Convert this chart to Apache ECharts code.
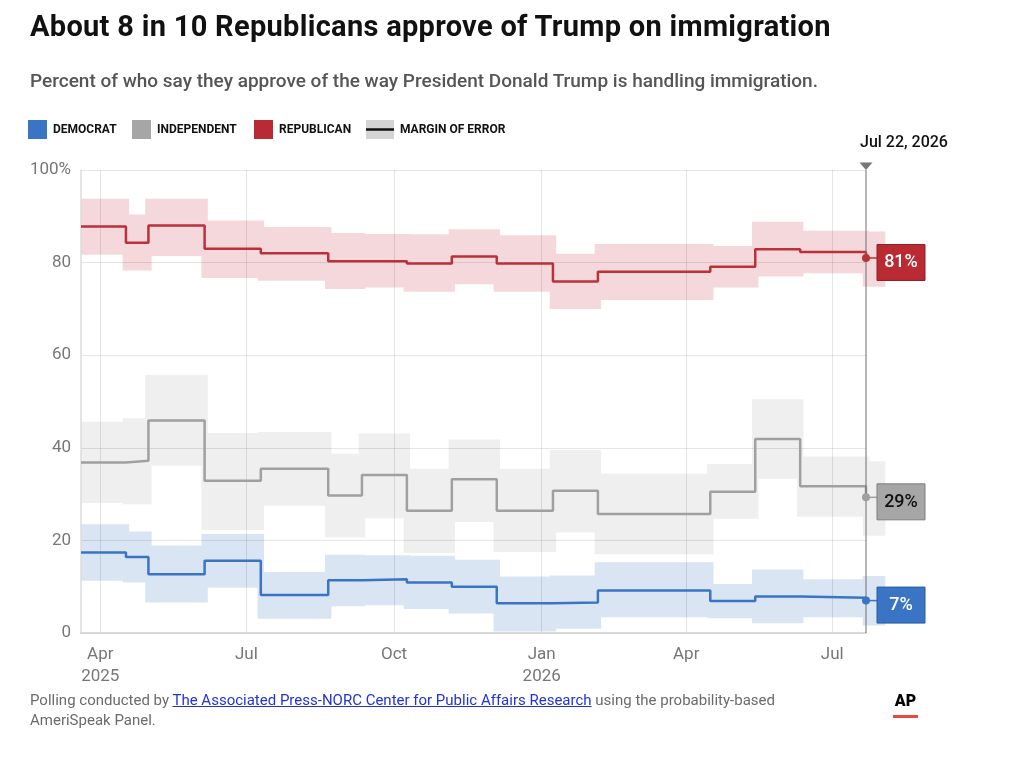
<!DOCTYPE html>
<html>
<head>
<meta charset="utf-8">
<title>About 8 in 10 Republicans approve of Trump on immigration</title>
<script src="https://cdn.jsdelivr.net/npm/echarts@6/dist/echarts.min.js"></script>
<style>
  html, body { margin: 0; padding: 0; background: #fff; }
  body { width: 1024px; height: 773px; position: relative; overflow: hidden; font-family: Roboto, "Noto Sans", sans-serif; }
  #chart { position: absolute; left: 0; top: 0; width: 1024px; height: 773px; }
  .txt { position: absolute; left: 30px; margin: 0; white-space: nowrap; z-index: 2; }
  h1.txt { top: 12px; font-size: 29px; line-height: 29px; font-weight: 700; color: #111; letter-spacing: 0.3px; }
  p.sub { top: 71px; font-size: 19px; line-height: 19px; font-weight: 500; color: #555; }
  p.foot { top: 690px; font-size: 15px; line-height: 20px; color: #6b6b6b; }
  p.foot a { color: #2233d6; text-decoration: underline; }
  .ap { position: absolute; left: 893px; top: 693px; width: 25px; text-align: center; font-size: 16px; line-height: 16px; font-weight: 900; color: #000; z-index: 2; }
  .ap-bar { position: absolute; left: 893px; top: 715px; width: 25px; height: 3px; background: #e8483f; z-index: 2; }
</style>
</head>
<body>
<h1 class="txt">About 8 in 10 Republicans approve of Trump on immigration</h1>
<p class="txt sub">Percent of who say they approve of the way President Donald Trump is handling immigration.</p>
<div id="chart"></div>
<p class="txt foot">Polling conducted by <a href="https://apnorc.org/">The Associated Press-NORC Center for Public Affairs Research</a> using the probability-based<br>AmeriSpeak Panel.</p>
<div class="ap">AP</div>
<div class="ap-bar"></div>
<script>
// poll dates (step changes) and estimates
const pollDates = ['2025-03-20', '2025-04-17', '2025-05-01', '2025-06-05', '2025-07-10', '2025-08-21',
    '2025-09-11', '2025-10-09', '2025-11-06', '2025-12-04', '2026-01-08', '2026-02-05',
    '2026-04-16', '2026-05-14', '2026-06-11', '2026-07-22'];
const lastBandEnd = '2026-08-03';
const latestLabel = 'Jul 22, 2026';

const demValues = [17.4, 16.4, 12.7, 15.6, 8.2, 11.4, 11.6, 10.9, 10.0, 6.4, 6.6, 9.2, 6.9, 7.9, 7.6, 7.0];
const demLow = [11.3, 10.9, 6.6, 9.8, 3.1, 5.8, 6.0, 5.2, 4.2, 0.3, 0.9, 3.4, 3.2, 2.1, 3.4, 1.6];
const demHigh = [23.5, 21.9, 18.9, 21.4, 13.2, 16.9, 16.8, 16.7, 15.8, 12.2, 12.4, 15.3, 10.6, 13.7, 11.6, 12.3];

const indValues = [36.8, 37.2, 45.9, 32.9, 35.5, 29.7, 34.1, 26.4, 33.2, 26.4, 30.7, 25.7, 30.5, 41.9, 31.7, 29.3];
const indLow = [28.1, 27.8, 36.1, 22.2, 27.5, 20.7, 24.8, 17.3, 24.0, 17.5, 21.7, 17.0, 24.7, 33.3, 25.1, 21.0];
const indHigh = [45.6, 46.4, 55.7, 43.2, 43.4, 38.7, 43.1, 35.5, 41.8, 35.5, 39.5, 34.4, 36.5, 50.5, 38.1, 37.1];

const repValues = [87.8, 84.3, 88.0, 83.0, 82.0, 80.3, 80.3, 79.8, 81.3, 79.8, 75.9, 78.0, 79.1, 82.9, 82.3, 81.0];
const repLow = [81.7, 78.3, 81.4, 76.7, 76.1, 74.3, 74.6, 73.7, 75.3, 73.7, 70.0, 71.9, 74.6, 77.0, 77.7, 74.8];
const repHigh = [93.8, 90.4, 93.8, 89.1, 87.7, 86.4, 86.2, 86.1, 87.2, 85.9, 81.9, 84.0, 83.6, 88.8, 86.9, 86.7];

const xTickDates = ['2025-04-01', '2025-07-01', '2025-10-01', '2026-01-01', '2026-04-01', '2026-07-01'];
const monthLabels = ['Jan', 'Feb', 'Mar', 'Apr', 'May', 'Jun', 'Jul', 'Aug', 'Sep', 'Oct', 'Nov', 'Dec'];
const yTicks = [0, 20, 40, 60, 80, 100];

const DAY = 86400000;
const BAND_PAD_DAYS = 2;
const FONT = 'Roboto, "Noto Sans", sans-serif';

function parseDay(s) {
    const [y, m, d] = s.split('-').map(Number);
    return new Date(y, m - 1, d).getTime();
}

const xMin = parseDay(pollDates[0]);
const xMax = parseDay(pollDates[pollDates.length - 1]);
const xTicks = xTickDates.map(parseDay);

const parties = [
    { name: 'Democrat', values: demValues, low: demLow, high: demHigh,
      line: '#3a74c4', band: '#dae5f3', box: '#3a74c4', boxBorder: '#2b5c9e', text: '#fff' },
    { name: 'Independent', values: indValues, low: indLow, high: indHigh,
      line: '#a0a0a0', band: '#efefef', box: '#a6a6a6', boxBorder: '#7c7c7c', text: '#111' },
    { name: 'Republican', values: repValues, low: repLow, high: repHigh,
      line: '#b9313a', band: '#f4d8dc', box: '#b92a33', boxBorder: '#8c1f27', text: '#fff' }
];

function bandData(low, high) {
    return pollDates.map((d, i) => {
        const start = Math.max(xMin, parseDay(d) - BAND_PAD_DAYS * DAY);
        const end = i < pollDates.length - 1
            ? parseDay(pollDates[i + 1]) + BAND_PAD_DAYS * DAY
            : parseDay(lastBandEnd);
        return [start, end, low[i], high[i]];
    });
}

const series = [];

parties.forEach(p => {
    series.push({
        name: p.name + ' MOE',
        type: 'custom',
        z: 1,
        clip: false,
        silent: true,
        encode: { x: [0, 1], y: [2, 3] },
        data: bandData(p.low, p.high),
        renderItem: (params, api) => {
            const a = api.coord([api.value(0), api.value(3)]);
            const b = api.coord([api.value(1), api.value(2)]);
            return {
                type: 'rect',
                shape: { x: a[0], y: a[1], width: b[0] - a[0], height: b[1] - a[1] },
                style: { fill: p.band }
            };
        }
    });
});

parties.forEach(p => {
    series.push({
        name: p.name,
        type: 'line',
        step: 'end',
        z: 3,
        symbol: 'none',
        silent: true,
        lineStyle: { color: p.line, width: 2.5 },
        data: pollDates.map((d, i) => [parseDay(d), p.values[i]])
    });
});

// vertical marker for latest poll
series.push({
    name: 'latest',
    type: 'custom',
    z: 3.5,
    clip: false,
    silent: true,
    encode: { x: 0, y: [1, 2] },
    data: [[xMax, 0, 100]],
    renderItem: (params, api) => {
        const top = api.coord([api.value(0), api.value(2)]);
        const bottom = api.coord([api.value(0), api.value(1)]);
        return {
            type: 'group',
            children: [
                { type: 'line', shape: { x1: top[0], y1: top[1], x2: bottom[0], y2: bottom[1] },
                  style: { stroke: '#6f6f6f', lineWidth: 1 } },
                { type: 'polygon', shape: { points: [[top[0] - 6.5, top[1] - 7.5], [top[0] + 6.5, top[1] - 7.5], [top[0], top[1]]] },
                  style: { fill: '#777' } },
                { type: 'text', x: top[0] - 6, y: top[1] - 27,
                  style: { text: latestLabel, fill: '#111', font: '500 16px ' + FONT, verticalAlign: 'middle' } }
            ]
        };
    }
});

// end dots and value boxes
parties.forEach(p => {
    const last = p.values.length - 1;
    series.push({
        name: p.name + ' end',
        type: 'custom',
        z: 4,
        clip: false,
        silent: true,
        encode: { x: 0, y: 1 },
        data: [[xMax, p.values[last]]],
        renderItem: (params, api) => {
            const pt = api.coord([api.value(0), api.value(1)]);
            const bx = pt[0] + 11;
            return {
                type: 'group',
                children: [
                    { type: 'line', shape: { x1: pt[0], y1: pt[1], x2: bx, y2: pt[1] },
                      style: { stroke: p.line, lineWidth: 1.5 } },
                    { type: 'circle', shape: { cx: pt[0], cy: pt[1], r: 4 }, style: { fill: p.line } },
                    { type: 'rect', shape: { x: bx, y: pt[1] - 13.5, width: 48, height: 36 },
                      style: { fill: p.box, stroke: p.boxBorder, lineWidth: 1 } },
                    { type: 'text', x: bx + 24, y: pt[1] + 4.8,
                      style: { text: Math.round(api.value(1)) + '%', fill: p.text, font: '500 18px ' + FONT,
                               align: 'center', verticalAlign: 'middle' } }
                ]
            };
        }
    });
});

const legendItems = [
    { x: 28, w: 19, label: 'DEMOCRAT', color: '#3a74c4' },
    { x: 132, w: 19, label: 'INDEPENDENT', color: '#a6a6a6' },
    { x: 254, w: 19, label: 'REPUBLICAN', color: '#b92a33' },
    { x: 366, w: 28, label: 'MARGIN OF ERROR', color: '#d4d4d4', moe: true }
];
const legendGraphics = [];
legendItems.forEach(it => {
    legendGraphics.push({ type: 'rect', shape: { x: it.x, y: 120, width: it.w, height: 19 }, style: { fill: it.color } });
    if (it.moe) {
        legendGraphics.push({ type: 'line', shape: { x1: it.x, y1: 129.5, x2: it.x + it.w, y2: 129.5 },
            style: { stroke: '#111', lineWidth: 2.5 } });
    }
    legendGraphics.push({ type: 'text', x: it.x + it.w + 6, y: 130,
        style: { text: it.label, fill: '#111', font: '700 12px ' + FONT, verticalAlign: 'middle' } });
});

const chart = echarts.init(document.getElementById('chart'), null, { renderer: 'canvas' });
chart.setOption({
    animation: false,
    backgroundColor: '#fff',
    textStyle: { fontFamily: FONT },
    grid: { left: 81, right: 158, top: 170, bottom: 140 },
    xAxis: {
        type: 'value',
        z: 1.5,
        min: xMin,
        max: xMax,
        axisLine: { show: true, onZero: false, lineStyle: { color: '#cfcfcf', width: 1.5 } },
        axisTick: { show: false, customValues: xTicks },
        splitLine: { show: true, lineStyle: { color: 'rgba(0,0,0,0.1)', width: 1 } },
        axisLabel: {
            customValues: xTicks,
            color: '#777',
            fontSize: 17,
            lineHeight: 22,
            margin: 11,
            formatter: val => {
                const d = new Date(val);
                const m = monthLabels[d.getMonth()];
                return (val === xTicks[0] || d.getMonth() === 0) ? m + '\n' + d.getFullYear() : m;
            }
        }
    },
    yAxis: {
        type: 'value',
        z: 1.5,
        min: yTicks[0],
        max: yTicks[yTicks.length - 1],
        interval: 20,
        axisLine: { show: true, lineStyle: { color: '#dcdcdc', width: 1.5 } },
        axisTick: { show: false },
        splitLine: { show: true, lineStyle: { color: 'rgba(0,0,0,0.1)', width: 1 } },
        axisLabel: {
            color: '#777',
            fontSize: 17,
            margin: 10,
            formatter: v => (v === 100 ? '100%' : String(v))
        }
    },
    graphic: legendGraphics,
    series: series
});

window.addEventListener('resize', () => chart.resize());
</script>
</body>
</html>
